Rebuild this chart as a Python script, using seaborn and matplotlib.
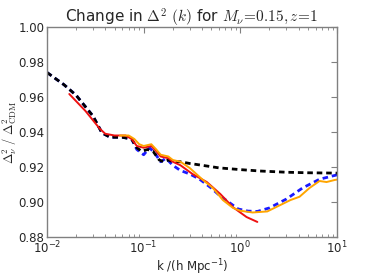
import matplotlib
matplotlib.use("Agg")
import matplotlib.pyplot as plt
import seaborn as sns
import pandas as pd
from matplotlib.ticker import LogLocator, NullFormatter

# data
k_black = [0.01, 0.015, 0.02, 0.03, 0.037, 0.045, 0.06, 0.075, 0.085, 0.095, 0.11, 0.125,
           0.145, 0.16, 0.18, 0.2, 0.24, 0.3, 0.4, 0.6, 1.0, 1.6, 3.0, 5.0, 10.0]
y_black = [0.974, 0.967, 0.961, 0.949, 0.9395, 0.937, 0.937, 0.936, 0.931, 0.929, 0.930, 0.929,
           0.924, 0.923, 0.924, 0.923, 0.923, 0.922, 0.921, 0.9195, 0.9185, 0.9177, 0.917, 0.9167, 0.9165]

k_blue = [0.01, 0.015, 0.02, 0.03, 0.037, 0.045, 0.06, 0.075, 0.085, 0.1, 0.115, 0.13, 0.15, 0.17,
          0.2, 0.24, 0.3, 0.38, 0.5, 0.62, 0.8, 0.95, 1.2, 1.5, 2.0, 3.0, 4.4, 6.6, 10.0]
y_blue = [0.974, 0.967, 0.961, 0.949, 0.9395, 0.937, 0.937, 0.936, 0.930, 0.927, 0.931, 0.928, 0.923,
          0.925, 0.921, 0.918, 0.916, 0.913, 0.908, 0.9034, 0.899, 0.896, 0.8948, 0.8946, 0.8966,
          0.9017, 0.908, 0.913, 0.9155]

k_red = [0.017, 0.025, 0.035, 0.04, 0.05, 0.065, 0.075, 0.085, 0.1, 0.12, 0.135, 0.15, 0.18, 0.2,
         0.24, 0.32, 0.45, 0.62, 0.84, 1.16, 1.5]
y_red = [0.9617, 0.952, 0.942, 0.939, 0.938, 0.938, 0.936, 0.932, 0.931, 0.932, 0.929, 0.926, 0.925,
         0.923, 0.921, 0.916, 0.9114, 0.9046, 0.897, 0.8914, 0.8886]

k_orange = [0.057, 0.07, 0.08, 0.09, 0.1, 0.12, 0.135, 0.15, 0.18, 0.2, 0.24, 0.3, 0.41, 0.52, 0.66,
            0.84, 1.0, 1.34, 1.9, 2.6, 3.3, 4.1, 5.2, 6.6, 7.8, 9.5, 10.0]
y_orange = [0.938, 0.938, 0.936, 0.933, 0.932, 0.933, 0.930, 0.927, 0.926, 0.924, 0.923, 0.9194,
            0.9126, 0.908, 0.9011, 0.8966, 0.8950, 0.894, 0.8946, 0.8983, 0.9011, 0.903, 0.908,
            0.912, 0.9114, 0.9126, 0.9128]

y_ticks = [0.88, 0.90, 0.92, 0.94, 0.96, 0.98, 1.00]

sns.set_style("white")
plt.rcParams['font.family'] = ['DejaVu Sans']
plt.rcParams['mathtext.fontset'] = 'dejavusans'

fig = plt.figure(figsize=(3.74, 2.80), dpi=100)
ax = fig.add_axes([0.1257, 0.1536, 0.7753, 0.75])

sns.lineplot(data=pd.DataFrame({"k": k_blue, "r": y_blue}), x="k", y="r", ax=ax,
             color="#1a1aff", linestyle=(0, (2.0, 1.4)), linewidth=2.0)
sns.lineplot(data=pd.DataFrame({"k": k_black, "r": y_black}), x="k", y="r", ax=ax,
             color="black", linestyle=(0, (2.0, 1.4)), linewidth=2.0)
sns.lineplot(data=pd.DataFrame({"k": k_red, "r": y_red}), x="k", y="r", ax=ax,
             color="#ee1111", linewidth=1.4)
sns.lineplot(data=pd.DataFrame({"k": k_orange, "r": y_orange}), x="k", y="r", ax=ax,
             color="orange", linewidth=1.4)

ax.set_xscale("log")
ax.set_xlim(1e-2, 1e1)
ax.set_ylim(0.88, 1.00)
ax.set_yticks(y_ticks)
ax.set_yticklabels([f"{v:.2f}" for v in y_ticks])
ax.xaxis.set_minor_locator(LogLocator(base=10, subs=range(2, 10)))
ax.xaxis.set_minor_formatter(NullFormatter())

for s in ax.spines.values():
    s.set_color("#808080")
    s.set_linewidth(1.0)
ax.tick_params(which="both", direction="in", top=True, right=True, color="#808080",
               labelsize=8.5, pad=2)
ax.tick_params(which="major", length=4)
ax.tick_params(which="minor", length=2, bottom=True, top=True)

ax.set_xlabel(r"k /(h Mpc$^{-1}$)", fontsize=8.5, labelpad=1)
ax.set_ylabel(r"$\Delta^2_\nu\ /\ \Delta^2_{\rm CDM}$", fontsize=9, math_fontfamily='cm')
ax.yaxis.set_label_coords(-0.095, 0.5)
ax.set_title(r"Change in $\Delta^2$ $(k)$ for $M_\nu\!=\!0.15,z\!=\!1$", fontsize=11,
             math_fontfamily='cm', pad=3)
ax.grid(False)

fig.savefig("out.png", dpi=100)
